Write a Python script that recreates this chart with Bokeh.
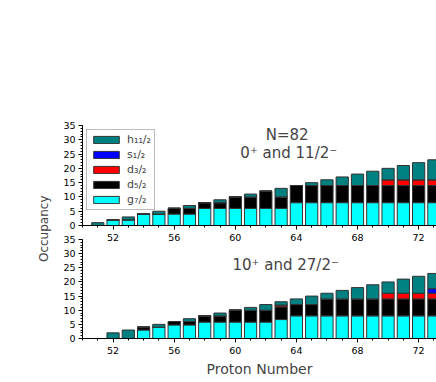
from bokeh.plotting import figure
from bokeh.layouts import column
from bokeh.models import Range1d, SingleIntervalTicker, Legend, LegendItem, Label, Title, ColumnDataSource
from bokeh.embed import file_html
from bokeh.resources import INLINE

# ---------------- data ----------------
protons = [51, 52, 53, 54, 55, 56, 57, 58, 59, 60, 61, 62, 63, 64, 65, 66, 67, 68, 69, 70, 71, 72, 73]
orbitals = ["g7/2", "d5/2", "d3/2", "s1/2", "h11/2"]
orbital_labels = ["g₇/₂", "d₅/₂", "d₃/₂", "s₁/₂", "h₁₁/₂"]
colors = ["#00FFFF", "#000000", "#FF0000", "#0000FF", "#008080"]

# 0+ and 11/2- states
top_g7 = [0, 2, 2, 4, 4, 4, 4, 6, 6, 6, 6, 6, 6, 8, 8, 8, 8, 8, 8, 8, 8, 8, 8]
top_d5 = [0, 0, 0, 0, 0, 2, 2, 2, 2, 4, 4, 6, 4, 6, 6, 6, 6, 6, 6, 6, 6, 6, 6]
top_d3 = [0, 0, 0, 0, 0, 0, 0, 0, 0, 0, 0, 0, 0, 0, 0, 0, 0, 0, 0, 2, 2, 2, 2]
top_s1 = [0, 0, 0, 0, 0, 0, 0, 0, 0, 0, 0, 0, 0, 0, 0, 0, 0, 0, 0, 0, 0, 0, 0]
top_h11 = [1, 0, 1, 0, 1, 0, 1, 0, 1, 0, 1, 0, 3, 0, 1, 2, 3, 4, 5, 4, 5, 6, 7]

# 10+ and 27/2- states
bot_g7 = [0, 0, 0, 3, 4, 4.8, 4.8, 5.8, 5.8, 5.8, 5.8, 5.8, 6.7, 8, 8, 8, 8, 8, 8, 8, 8, 8, 8]
bot_d5 = [0, 0, 0, 1, 0, 1.2, 1.2, 2.2, 2.2, 4.2, 4.2, 4.2, 4.5, 4, 4, 6, 6, 6, 6, 6, 6, 6, 6]
bot_d3 = [0, 0, 0, 0, 0, 0, 0, 0, 0, 0, 0, 0, 0.6, 0, 0, 0, 0, 0, 0, 2, 2, 2, 2]
bot_s1 = [0, 0, 0, 0, 0, 0, 0, 0, 0, 0, 0, 0, 0, 0, 0, 0, 0, 0, 0, 0, 0, 0, 1.6]
bot_h11 = [0, 2, 3, 0, 1, 0, 1, 0, 1, 0, 1, 2, 1.2, 2, 3, 2, 3, 4, 5, 4, 5, 6, 5.4]

FONT = "DejaVu Sans"
X0, X1 = 50, 73.17


def style_axes(p):
    for ax in (p.xaxis[0], p.yaxis[0]):
        ax.axis_line_color = "black"
        ax.axis_line_width = 1
        ax.major_tick_line_color = "black"
        ax.minor_tick_line_color = "black"
        ax.major_tick_in = 0
        ax.major_tick_out = 4
        ax.minor_tick_in = 0
        ax.minor_tick_out = 2
        ax.major_label_text_font = FONT
        ax.major_label_text_font_size = "9.5px"
        ax.major_label_text_color = "black"
        ax.major_label_standoff = 3
    p.xaxis[0].major_label_standoff = 4
    p.xaxis[0].ticker = SingleIntervalTicker(interval=4, num_minor_ticks=4)
    p.yaxis[0].ticker = SingleIntervalTicker(interval=5, num_minor_ticks=5)
    p.xgrid.visible = False
    p.ygrid.visible = False
    p.outline_line_color = None


def add_bars(p, g7, d5, d3, s1, h11):
    src = ColumnDataSource(dict(z=protons, **{
        "g7/2": g7, "d5/2": d5, "d3/2": d3, "s1/2": s1, "h11/2": h11}))
    return p.vbar_stack(orbitals, x="z", width=0.8, source=src,
                        fill_color=colors, line_color="#333333", line_width=1)


# ---------------- top panel ----------------
p1 = figure(width=436, height=266, x_range=Range1d(X0, X1), y_range=Range1d(0, 35),
            output_backend="svg", toolbar_location=None,
            min_border_left=82, min_border_right=0, min_border_top=125, min_border_bottom=41)
style_axes(p1)
r1 = add_bars(p1, top_g7, top_d5, top_d3, top_s1, top_h11)

items = [LegendItem(label=orbital_labels[i], renderers=[r1[i]]) for i in reversed(range(5))]
leg = Legend(items=items, location="top_left", margin=4, padding=3, spacing=2,
             glyph_width=32, glyph_height=9, label_height=12, label_standoff=5,
             label_text_font=FONT, label_text_font_size="11px",
             border_line_color="#777777", border_line_width=1,
             background_fill_color="white", background_fill_alpha=1)
p1.add_layout(leg)

p1.add_layout(Label(x=63.4, y=31.8, text="N=82", text_align="center", text_baseline="middle",
                    text_font=FONT, text_font_size="15px"))
p1.add_layout(Label(x=63.5, y=25.4, text="0⁺ and 11/2⁻", text_align="center",
                    text_baseline="middle", text_font=FONT, text_font_size="15px"))

# ---------------- bottom panel ----------------
p2 = figure(width=436, height=196, x_range=Range1d(X0, X1), y_range=Range1d(0, 35),
            output_backend="svg", toolbar_location=None,
            min_border_left=82, min_border_right=0, min_border_top=53, min_border_bottom=44,
            border_fill_color=None, background_fill_color=None)
style_axes(p2)
add_bars(p2, bot_g7, bot_d5, bot_d3, bot_s1, bot_h11)
p2.xaxis[0].axis_label = "Proton Number"
p2.xaxis[0].axis_label_text_font = FONT
p2.xaxis[0].axis_label_text_font_size = "14px"
p2.xaxis[0].axis_label_text_font_style = "normal"
p2.xaxis[0].axis_label_standoff = 4
p2.add_layout(Label(x=63.3, y=25.9, text="10⁺ and 27/2⁻", text_align="center",
                    text_baseline="middle", text_font=FONT, text_font_size="15px"))

# shared y-axis title, spanning the gap between the two panels
ytitle = Title(text="Occupancy", align="right", offset=-44, standoff=20,
               text_font=FONT, text_font_size="12px", text_font_style="normal")
p2.add_layout(ytitle, "left")
p2.margin = (-80, 0, 0, 0)

layout = column(p1, p2, spacing=0)
open("out.html", "w").write(file_html(layout, INLINE))
